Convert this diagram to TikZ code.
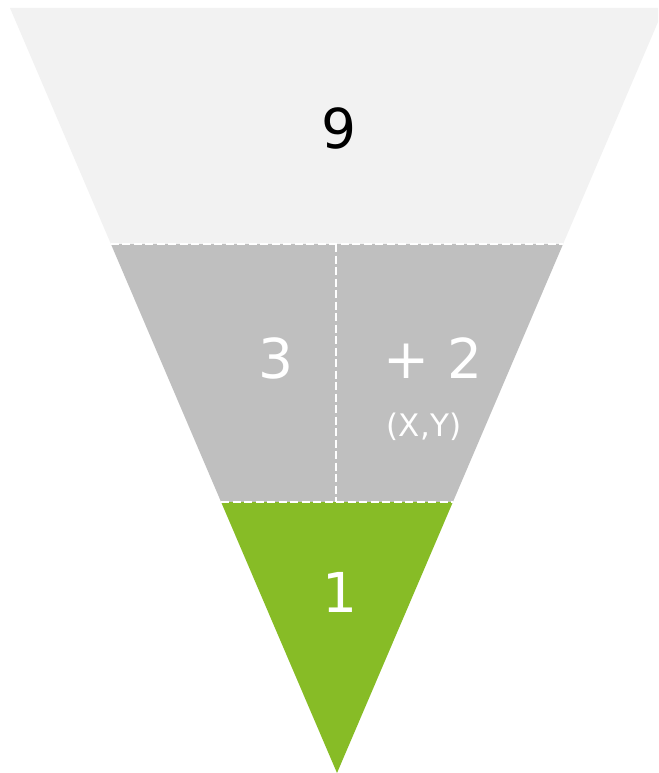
\documentclass[tikz,border=0pt]{standalone}
\usepackage{fontspec}
\setmainfont{DejaVu Sans}
\definecolor{topgrey}{HTML}{F2F2F2}
\definecolor{midgrey}{HTML}{BFBFBF}
\definecolor{leafgreen}{HTML}{87BC26}
\tikzset{
  bignum/.style={font=\fontsize{55}{60}\selectfont, inner sep=0pt},
  smalltext/.style={font=\fontsize{31}{34}\selectfont, inner sep=0pt},
  divider/.style={draw=white, line width=2pt, dash pattern=on 8pt off 3.5pt}
}
\begin{document}
\begin{tikzpicture}[x=1pt,y=-1pt]
\useasboundingbox (0,0) rectangle (658,773);
\clip (0,0) rectangle (658,773);
% corners
\coordinate (tl) at (10,8);
\coordinate (tr) at (664,8);
\coordinate (ml) at (110.9,244);
\coordinate (mr) at (563.1,244);
\coordinate (bl) at (221.1,502);
\coordinate (br) at (452.9,502);
\coordinate (apex) at (337,773);
\coordinate (vt) at (336,244);
\coordinate (vb) at (336,502);
% bands
\fill[topgrey] (tl) -- (tr) -- (mr) -- (ml) -- cycle;
\fill[midgrey] (ml) -- (mr) -- (br) -- (bl) -- cycle;
\fill[leafgreen] (bl) -- (br) -- (apex) -- cycle;
% dividers
\draw[divider] (ml) -- (mr);
\draw[divider] (bl) -- (br);
\draw[divider] (vt) -- (vb);
% texts
\node[bignum, text=black] (nine) at (338.5,128) {9};
\node[bignum, text=white] (three) at (275.5,358) {3};
\node[bignum, text=white] (plustwo) at (433,358) {+ 2};
\node[smalltext, text=white] (xy) at (424,427) {(X,Y)};
\node[bignum, text=white] (one) at (340,592) {1};
\end{tikzpicture}
\end{document}
